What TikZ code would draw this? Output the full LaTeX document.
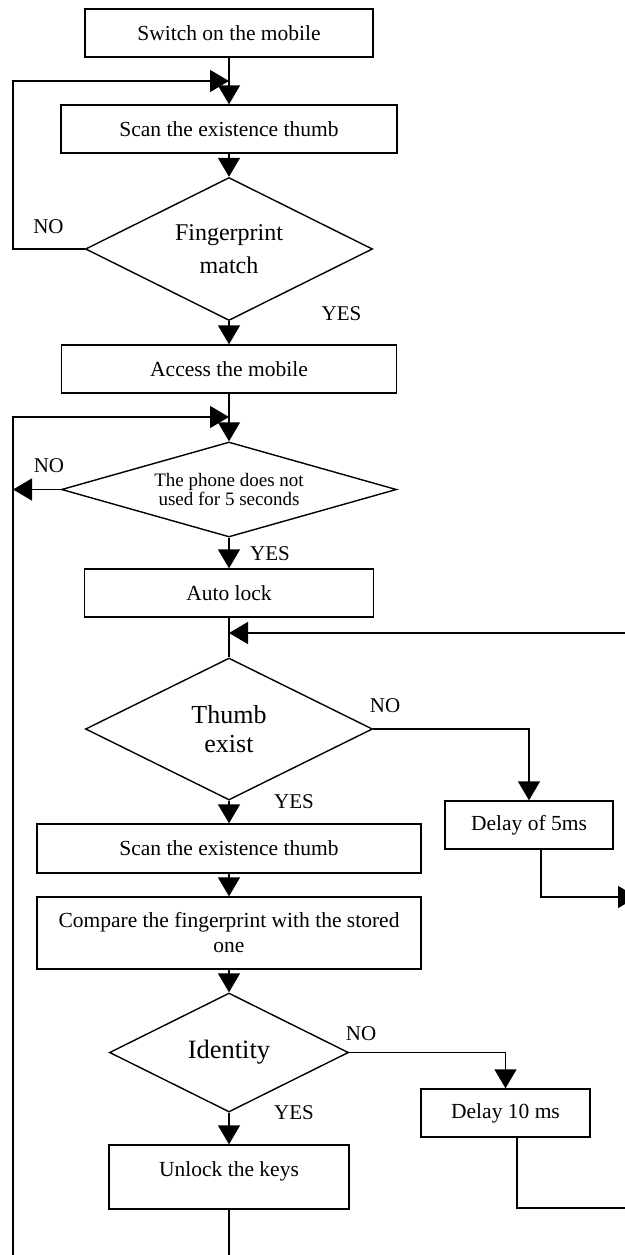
\documentclass[tikz,border=0pt]{standalone}
\usepackage{fontspec}
\setmainfont{Liberation Serif}
\usetikzlibrary{shapes.geometric,arrows.meta,calc}

\begin{document}
\begin{tikzpicture}
  [ x=1pt, y=-1pt,
    box/.style={rectangle, draw=black, line width=1.4pt, inner sep=0pt, align=center, font=\fontsize{21.5}{25}\selectfont},
    cond/.style={diamond, draw=black, line width=1.4pt, inner sep=0pt, aspect=2, align=center},
    lbl/.style={inner sep=0pt, font=\fontsize{21}{24}\selectfont},
    flow/.style={line width=1.4pt, black, -{Triangle[width=22pt,length=19pt]}},
    line1/.style={line width=1.4pt, black}
  ]
  \useasboundingbox (0,0) rectangle (624,1255);

  \node[box, minimum width=288pt, minimum height=48pt] (switch) at (229,33) {Switch on the mobile};
  \node[box, minimum width=336pt, minimum height=48pt] (scan1) at (229,129) {Scan the existence thumb};
  \node[cond, minimum width=287pt, minimum height=143pt, font=\fontsize{24}{33.5}\selectfont] (match) at (229,249) {Fingerprint\\match};
  \node[box, minimum width=335pt, minimum height=48pt] (access) at (229,369) {Access the mobile};
  \node[cond, aspect=3.5, minimum width=335pt, minimum height=95pt, font=\fontsize{19}{18.5}\selectfont] (idle) at (229,489.5) {The phone does not\\used for 5 seconds};
  \node[box, minimum width=289pt, minimum height=48pt] (lock) at (229,593) {Auto lock};
  \node[cond, minimum width=287pt, minimum height=142pt, font=\fontsize{26}{29.5}\selectfont] (exist) at (229,729) {Thumb\\exist};
  \node[box, minimum width=168pt, minimum height=48pt] (delay5) at (529,825) {Delay of 5ms};
  \node[box, minimum width=384pt, minimum height=49pt] (scan2) at (229,848.5) {Scan the existence thumb};
  \node[box, minimum width=384pt, minimum height=72pt] (compare) at (229,933) {Compare the fingerprint with the stored\\one};
  \node[cond, minimum width=239pt, minimum height=119pt, font=\fontsize{26.5}{30}\selectfont] (ident) at (229,1052.5) {Identity};
  \node[box, minimum width=169pt, minimum height=48pt] (delay10) at (505.5,1113) {Delay 10 ms};
  \node[box, minimum width=240pt, minimum height=64pt, text depth=15pt] (unlock) at (229,1177) {Unlock the keys};

  \node[lbl] (no1) at (48.5,227) {NO};
  \node[lbl] (yes1) at (341.5,314) {YES};
  \node[lbl] (no2) at (49,466) {NO};
  \node[lbl] (yes2) at (270,554) {YES};
  \node[lbl] (no3) at (385,706) {NO};
  \node[lbl] (yes3) at (294,802) {YES};
  \node[lbl] (no4) at (361,1034) {NO};
  \node[lbl] (yes4) at (294,1113) {YES};

  \coordinate (join1) at (229,81);
  \coordinate (join2) at (229,417);
  \coordinate (join3) at (229,633);
  \coordinate (loopA) at (13,81);
  \coordinate (loopB) at (13,417);
  \coordinate (loopBend) at (13,1262);
  \coordinate (backC) at (640,633);
  \coordinate (outD) at (637,897);
  \coordinate (outE) at (630,1208);
  \coordinate (outF) at (229,1262);

  \draw [flow] (switch.south) -- (scan1.north);
  \draw [flow] (scan1.south) -- (match.north);
  \draw [flow] (match.west) -| (loopA) -- (join1);
  \draw [flow] (match.south) -- (access.north);
  \draw [flow] (access.south) -- (idle.north);
  \draw [flow] (loopBend) -- (loopB) -- (join2);
  \draw [flow] (idle.west) -- (idle.west -| loopB);
  \draw [flow] (idle.south) -- (lock.north);
  \draw [line1] (lock.south) -- (exist.north);
  \draw [flow] (backC) -- (join3);
  \draw [flow] (exist.east) -| (delay5.north);
  \draw [flow] (exist.south) -- (scan2.north);
  \draw [flow] ($(delay5.south)+(12,0)$) |- (outD);
  \draw [flow] (scan2.south) -- (compare.north);
  \draw [flow] (compare.south) -- (ident.north);
  \draw [flow] (ident.east) -| (delay10.north);
  \draw [flow] (ident.south) -- (unlock.north);
  \draw [line1] ($(delay10.south)+(11.5,0)$) |- (outE);
  \draw [line1] (unlock.south) -- (outF);
\end{tikzpicture}
\end{document}
